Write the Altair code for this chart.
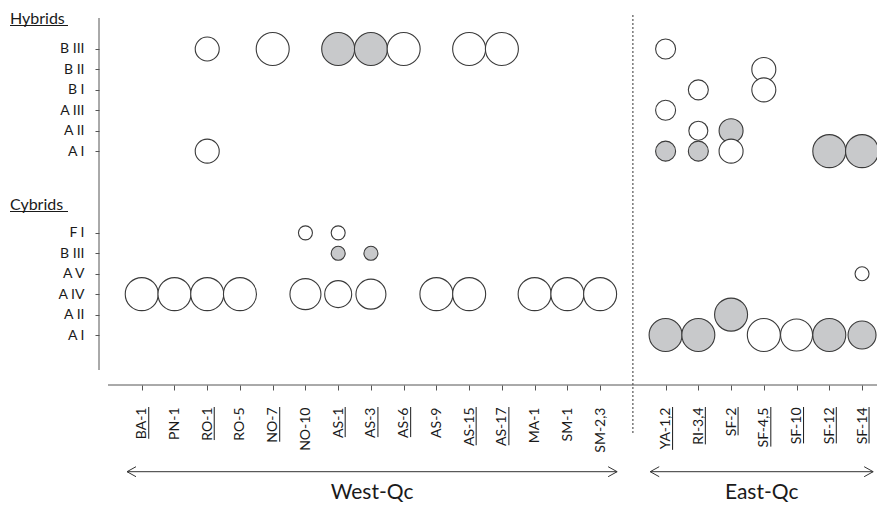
import altair as alt
import pandas as pd

# ---------------- data ----------------
west_sites = ["BA-1", "PN-1", "RO-1", "RO-5", "NO-7", "NO-10", "AS-1", "AS-3",
              "AS-6", "AS-9", "AS-15", "AS-17", "MA-1", "SM-1", "SM-2,3"]
east_sites = ["YA-1,2", "RI-3,4", "SF-2", "SF-4,5", "SF-10", "SF-12", "SF-14"]
underlined_sites = ["BA-1", "RO-1", "NO-7", "AS-1", "AS-3", "AS-6", "AS-15", "AS-17",
                    "YA-1,2", "RI-3,4", "SF-2", "SF-4,5", "SF-10", "SF-12", "SF-14"]

cybrid_types = ["A I", "A II", "A IV", "A V", "B III", "F I"]
hybrid_types = ["A I", "A II", "A III", "B I", "B II", "B III"]

hyb_site = ["RO-1", "RO-1", "NO-7", "AS-1", "AS-3", "AS-6", "AS-15", "AS-17",
            "YA-1,2", "YA-1,2", "YA-1,2", "RI-3,4", "RI-3,4", "RI-3,4",
            "SF-2", "SF-2", "SF-4,5", "SF-4,5", "SF-12", "SF-14"]
hyb_type = ["B III", "A I", "B III", "B III", "B III", "B III", "B III", "B III",
            "B III", "A III", "A I", "B I", "A II", "A I",
            "A II", "A I", "B II", "B I", "A I", "A I"]
hyb_size = [24, 24, 33, 33, 33, 33, 33, 33,
            20, 20, 20, 20, 19, 20,
            24, 24, 24, 24, 33, 33]
hyb_grey = ["no", "no", "no", "yes", "yes", "no", "no", "no",
            "no", "no", "yes", "no", "no", "yes",
            "yes", "no", "no", "no", "yes", "yes"]

cyb_site = ["BA-1", "PN-1", "RO-1", "RO-5", "NO-10", "NO-10", "AS-1", "AS-1", "AS-1",
            "AS-3", "AS-3", "AS-9", "AS-15", "MA-1", "SM-1", "SM-2,3",
            "YA-1,2", "RI-3,4", "SF-2", "SF-4,5", "SF-10", "SF-12", "SF-14", "SF-14"]
cyb_type = ["A IV", "A IV", "A IV", "A IV", "A IV", "F I", "A IV", "B III", "F I",
            "A IV", "B III", "A IV", "A IV", "A IV", "A IV", "A IV",
            "A I", "A I", "A II", "A I", "A I", "A I", "A I", "A V"]
cyb_size = [33, 33, 33, 33, 31, 14, 27, 14, 14,
            30, 14, 33, 33, 33, 33, 33,
            33, 33, 33, 33, 32, 33, 28, 14]
cyb_grey = ["no", "no", "no", "no", "no", "no", "no", "yes", "no",
            "no", "yes", "no", "no", "no", "no", "no",
            "yes", "yes", "yes", "no", "no", "yes", "yes", "no"]

region_names = ["West-Qc", "East-Qc"]

# ---------------- layout ----------------
PAD_L, PAD_T, PAD_B = 101, 2, 120
W, H = 768, 375
X_DOM = [-1.0, 22.457]
Y_DOM = [-2.447, 15.909]
FONT = "Lato"
INK = "#1a1a1a"
LINE = "#555555"


def px_x(page_x):
    return X_DOM[0] + (page_x - 8 - PAD_L) * (X_DOM[1] - X_DOM[0]) / W


def px_y(page_y):
    return Y_DOM[1] - (page_y - 8 - PAD_T) * (Y_DOM[1] - Y_DOM[0]) / H


gap = len(west_sites)
site_pos = {s: i for i, s in enumerate(west_sites)}
site_pos.update({s: gap + 1 + i for i, s in enumerate(east_sites)})
x_labels = west_sites + [""] + east_sites
cyb_pos = {t: i for i, t in enumerate(cybrid_types)}
hyb_offset = len(cybrid_types) + 3
hyb_pos = {t: hyb_offset + i for i, t in enumerate(hybrid_types)}
y_labels = [""] * (hyb_offset + len(hybrid_types))
for t, i in cyb_pos.items():
    y_labels[i] = t
for t, i in hyb_pos.items():
    y_labels[i] = t

rows = []
for s, t, d, g in zip(hyb_site, hyb_type, hyb_size, hyb_grey):
    rows.append({"xi": site_pos[s], "yi": hyb_pos[t], "d": d, "grey": g})
for s, t, d, g in zip(cyb_site, cyb_type, cyb_size, cyb_grey):
    rows.append({"xi": site_pos[s], "yi": cyb_pos[t], "d": d, "grey": g})
df = pd.DataFrame(rows)

xs = alt.Scale(domain=X_DOM, nice=False, zero=False)
ys = alt.Scale(domain=Y_DOM, nice=False, zero=False)


def arr_expr(labels):
    return "[" + ",".join("'" + l + "'" for l in labels) + "][datum.value]"


x_axis = alt.Axis(values=[site_pos[s] for s in west_sites + east_sites],
                  labelExpr=arr_expr(x_labels), title=None, grid=False,
                  domain=False, ticks=True, tickSize=5, tickColor=LINE,
                  labelAngle=-90, labelAlign="right", labelBaseline="middle",
                  labelPadding=17, labelFont=FONT, labelFontSize=14,
                  labelColor=INK, labelOverlap=False, labelBound=False)
y_axis = alt.Axis(values=sorted(list(cyb_pos.values()) + list(hyb_pos.values())),
                  labelExpr=arr_expr(y_labels), title=None, grid=False,
                  domain=False, ticks=True, tickSize=4, tickColor=LINE,
                  offset=10, labelPadding=11, labelFont=FONT, labelFontSize=14,
                  labelColor=INK, labelOverlap=False, labelBound=False)


def X(field):
    return alt.X(field, scale=xs, axis=x_axis)


def Y(field):
    return alt.Y(field, scale=ys, axis=y_axis)


points = alt.Chart(df).mark_circle(opacity=1, stroke="#3a3a3a", strokeWidth=1.1).encode(
    x=X("xi:Q"),
    y=Y("yi:Q"),
    size=alt.Size("d:Q", scale=alt.Scale(type="pow", exponent=2, domain=[0, 33],
                                         range=[0, 33 * 33]), legend=None),
    fill=alt.Fill("grey:N", scale=alt.Scale(domain=["no", "yes"],
                                            range=["#ffffff", "#c8c9cb"]), legend=None),
)

# axis lines
axis_df = pd.DataFrame({"xa": [px_x(99), px_x(108)], "xb": [px_x(99), X_DOM[1]],
                        "ya": [px_y(18), Y_DOM[0]], "yb": [px_y(370), Y_DOM[0]]})
axis_lines = alt.Chart(axis_df).mark_rule(color=LINE, strokeWidth=1).encode(
    x=X("xa:Q"), x2="xb:Q", y=Y("ya:Q"), y2="yb:Q")

# divider between regions
div_df = pd.DataFrame({"xi": [gap], "ya": [px_y(15)], "yb": [px_y(433)]})
divider = alt.Chart(div_df).mark_rule(color="#777777", strokeWidth=1.5,
                                      strokeDash=[2, 2]).encode(
    x=X("xi:Q"), y=Y("ya:Q"), y2="yb:Q")

# underlines of site labels
W_EM = {"A": 0.68, "B": 0.64, "I": 0.28, "M": 0.90, "N": 0.75, "O": 0.78, "P": 0.60,
        "R": 0.63, "S": 0.52, "Y": 0.62, "F": 0.55, "E": 0.57, "-": 0.37, ",": 0.23}


def text_w(s, size):
    return sum(W_EM.get(c, 0.58) for c in s) * size


LABEL_TOP = 8 + PAD_T + H + 5 + 17
ul_df = pd.DataFrame({
    "xi": [site_pos[s] for s in underlined_sites],
    "ya": [px_y(LABEL_TOP) for s in underlined_sites],
    "yb": [px_y(LABEL_TOP + text_w(s, 14)) for s in underlined_sites],
})
underlines = alt.Chart(ul_df).mark_rule(color=INK, strokeWidth=1, xOffset=7).encode(
    x=X("xi:Q"), y=Y("ya:Q"), y2="yb:Q")

# group headings
head_df = pd.DataFrame({"label": ["Hybrids", "Cybrids"],
                        "yt": [px_y(24), px_y(209.5)],
                        "yu": [px_y(25.5), px_y(211.5)]})
headings = alt.Chart(head_df).mark_text(align="left", baseline="alphabetic", font=FONT,
                                        fontSize=16, color=INK).encode(
    x=alt.value(10 - 8 - PAD_L), y=Y("yt:Q"), text="label:N")
head_ul = alt.Chart(head_df).mark_rule(color=INK, strokeWidth=1).encode(
    x=alt.value(10 - 8 - PAD_L), x2=alt.value(68 - 8 - PAD_L), y=Y("yu:Q"))

# region arrows
reg_df = pd.DataFrame({"name": region_names,
                       "xa": [-0.45, gap + 0.53], "xb": [gap - 0.48, gap + len(east_sites) + 0.34]})
reg_df["xc"] = (reg_df["xa"] + reg_df["xb"]) / 2
ARROW_Y = 471.7 - 8 - PAD_T
arrows = alt.Chart(reg_df).mark_rule(color="#333333", strokeWidth=1).encode(
    x=X("xa:Q"), x2="xb:Q", y=alt.value(ARROW_Y))
head_l = alt.Chart(reg_df).mark_point(shape="M 1.8 -1 L 0 0 L 1.8 1", filled=False,
                                      stroke="#333333", strokeWidth=1, size=100,
                                      opacity=1).encode(
    x=X("xa:Q"), y=alt.value(ARROW_Y))
head_r = alt.Chart(reg_df).mark_point(shape="M -1.8 -1 L 0 0 L -1.8 1", filled=False,
                                      stroke="#333333", strokeWidth=1, size=100,
                                      opacity=1).encode(
    x=X("xb:Q"), y=alt.value(ARROW_Y))
reg_text = alt.Chart(reg_df).mark_text(align="center", baseline="middle", font=FONT,
                                       fontSize=21, color=INK).encode(
    x=X("xc:Q"), y=alt.value(493 - 8 - PAD_T), text="name:N")

chart = alt.layer(
    points, divider, axis_lines, underlines, headings, head_ul,
    arrows, head_l, head_r, reg_text
).properties(
    width=W, height=H, autosize="none", background="white",
    padding={"left": PAD_L, "top": PAD_T, "right": 0, "bottom": PAD_B},
).configure_view(stroke=None)

chart.save("out.html", embed_options={"renderer": "svg", "actions": False})
